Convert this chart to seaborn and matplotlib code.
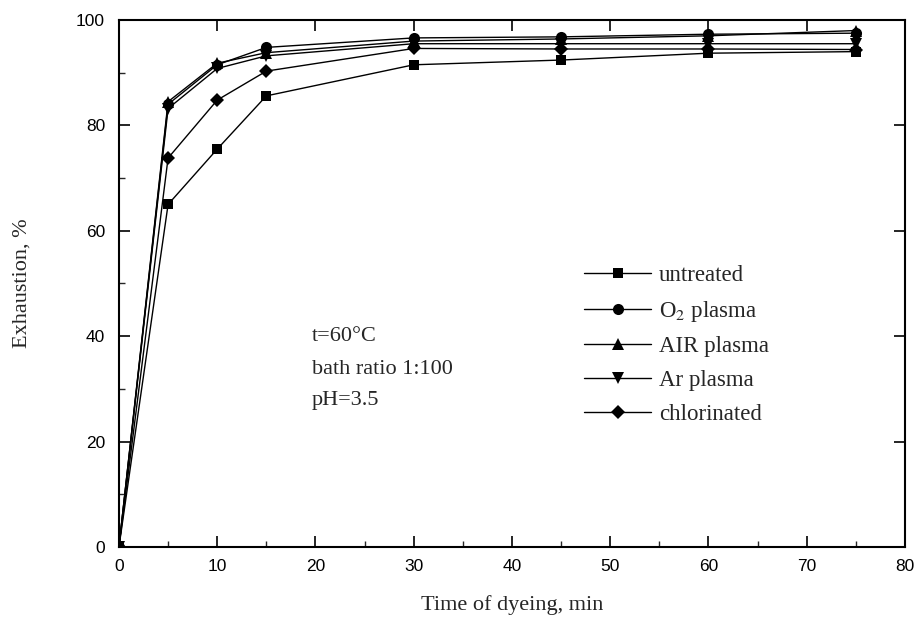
import matplotlib
matplotlib.use("Agg")
import matplotlib.pyplot as plt
import seaborn as sns
import pandas as pd
from matplotlib.ticker import MultipleLocator

# Dyeing time (min)
time_min = [0, 5, 10, 15, 30, 45, 60, 75]

# Exhaustion (%) for each fibre treatment
untreated = [0, 65.0, 75.5, 85.6, 91.5, 92.4, 93.7, 94.0]
o2_plasma = [0, 84.0, 91.5, 94.8, 96.6, 96.8, 97.3, 97.5]
air_plasma = [0, 84.5, 91.8, 93.8, 96.0, 96.4, 97.0, 98.0]
ar_plasma = [0, 83.2, 90.8, 93.2, 95.5, 95.5, 95.5, 95.5]
chlorinated = [0, 73.8, 84.8, 90.3, 94.6, 94.5, 94.5, 94.4]

series_labels = ["untreated", "O$_2$ plasma", "AIR plasma", "Ar plasma", "chlorinated"]
series_values = [untreated, o2_plasma, air_plasma, ar_plasma, chlorinated]
series_markers = ["s", "o", "^", "v", "D"]
series_sizes = [7.5, 8, 8.5, 8.5, 7.5]

rows = []
for lab, vals in zip(series_labels, series_values):
    for t, v in zip(time_min, vals):
        rows.append({"time": t, "exhaustion": v, "treatment": lab})
df = pd.DataFrame(rows)

sns.set_theme(style="ticks")
plt.rcParams["font.family"] = ["Liberation Serif", "DejaVu Serif"]
plt.rcParams["mathtext.fontset"] = "stix"

fig = plt.figure(figsize=(9.2, 6.21), dpi=100)
ax = fig.add_axes([0.1293, 0.1192, 0.8544, 0.8486])

for lab, mk, ms in zip(series_labels, series_markers, series_sizes):
    sub = df[df["treatment"] == lab]
    sns.lineplot(data=sub, x="time", y="exhaustion", ax=ax, color="black",
                 marker=mk, markersize=ms, markeredgewidth=0, linewidth=1.0,
                 label=lab, legend=False)

ax.set_xlim(0, 80)
ax.set_ylim(0, 100)
ax.xaxis.set_major_locator(MultipleLocator(10))
ax.xaxis.set_minor_locator(MultipleLocator(5))
ax.yaxis.set_major_locator(MultipleLocator(20))
ax.yaxis.set_minor_locator(MultipleLocator(10))
ax.tick_params(which="major", direction="in", length=8, width=1.2,
               top=True, right=True, labelsize=12.5, pad=9, colors="black")
ax.tick_params(axis="y", which="major", pad=10)
ax.tick_params(which="minor", direction="in", length=4, width=1.0,
               top=False, right=False, bottom=True, left=True)
for lbl in ax.get_xticklabels() + ax.get_yticklabels():
    lbl.set_family(["Liberation Sans", "DejaVu Sans"])
for sp in ax.spines.values():
    sp.set_visible(True)
    sp.set_linewidth(1.5)
    sp.set_color("black")

ax.set_xlabel("Time of dyeing, min", fontsize=16, labelpad=15)
ax.set_ylabel("Exhaustion, %", fontsize=16, labelpad=32)

ax.text(0.245, 0.400, "t=60°C", transform=ax.transAxes, fontsize=16, va="center")
ax.text(0.245, 0.337, "bath ratio 1:100", transform=ax.transAxes, fontsize=16, va="center")
ax.text(0.245, 0.278, "pH=3.5", transform=ax.transAxes, fontsize=16, va="center")

handles, labels = ax.get_legend_handles_labels()
ax.legend(handles, labels, loc="upper left", bbox_to_anchor=(0.592, 0.535),
          frameon=False, fontsize=16.5, handlelength=2.9, handletextpad=0.35,
          labelspacing=0.55, borderpad=0, borderaxespad=0)

fig.savefig("out.png", dpi=100)
